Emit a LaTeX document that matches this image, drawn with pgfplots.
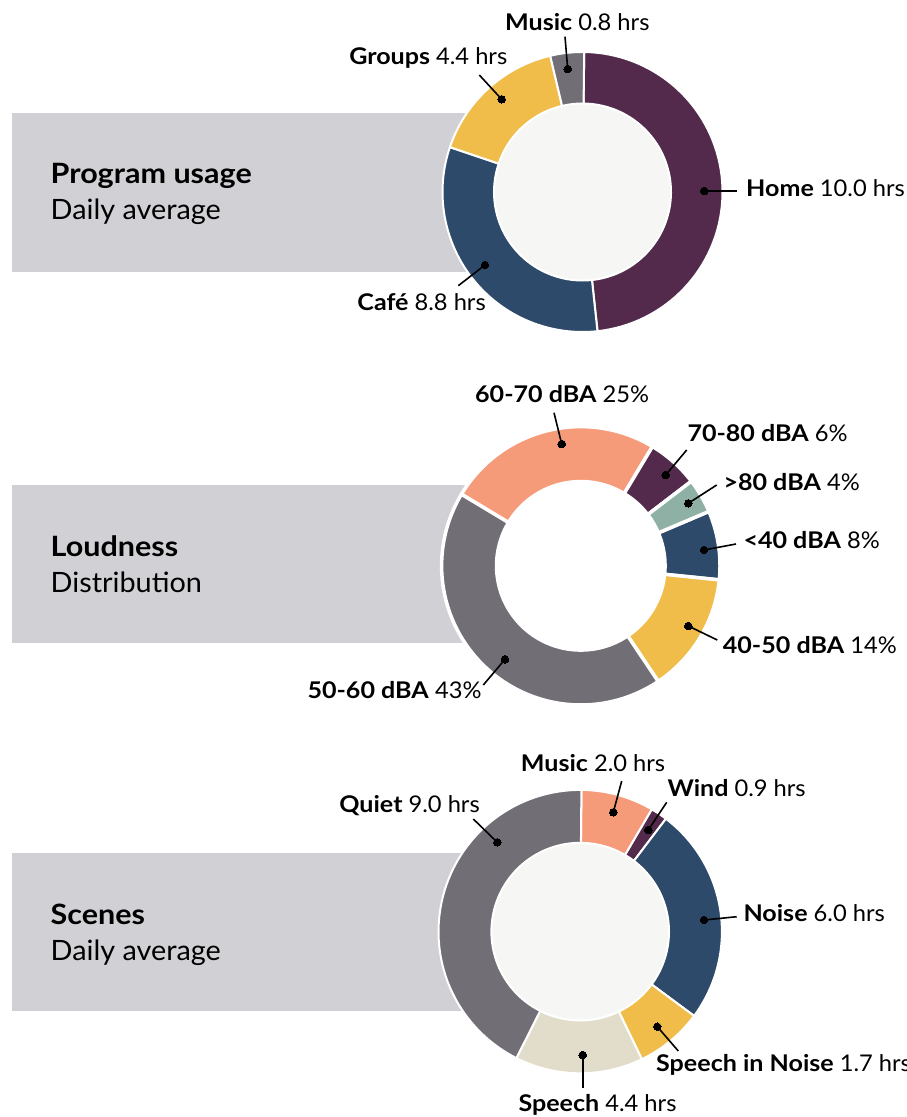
\documentclass[border=0pt]{standalone}
\usepackage{pgfplots}
\pgfplotsset{compat=1.18}
\usepackage{fontspec}
\setmainfont{Lato}[UprightFeatures={FakeStretch=1.03}, BoldFeatures={FakeStretch=1.09}]

\definecolor{panel}{HTML}{D1D0D5}
\definecolor{hole}{HTML}{F6F6F4}
\definecolor{cpurple}{HTML}{532A4B}
\definecolor{cnavy}{HTML}{2E4A6A}
\definecolor{cyellow}{HTML}{F0BD4B}
\definecolor{cgray}{HTML}{716E75}
\definecolor{csalmon}{HTML}{F69B79}
\definecolor{csage}{HTML}{8FB0A5}
\definecolor{cbeige}{HTML}{E2DDCB}

\def\sepw{2pt}
\def\curang{90}
% #1 cx, #2 cy, #3 outer radius, #4 share (percent), #5 colour
\newcommand\slice[5]{%
  \pgfmathsetmacro\endang{\curang-3.6*#4}%
  \edef\tmp{\noexpand\addplot[fill=#5, draw=white, line width=\sepw, line join=round,
     domain=0:1, samples=70, variable=\noexpand\t]
    ({#1+#3*cos(\curang+(\endang-\curang)*\noexpand\t)},
     {#2-#3*sin(\curang+(\endang-\curang)*\noexpand\t)}) -- (axis cs:#1,#2) -- cycle;}%
  \tmp
  \global\let\curang\endang
}
% #1 cx, #2 cy, #3 inner radius, #4 colour
\newcommand\hole[4]{%
  \addplot[fill=#4, draw=white, line width=\sepw, domain=0:360, samples=145]
    ({#1+#3*cos(x)}, {#2-#3*sin(x)}) -- cycle;
}
% leader: dot (#1,#2) to end (#3,#4)
\newcommand\leader[4]{%
  \addplot[black, line width=1.6pt, mark=*, mark size=3.8pt, mark indices={1},
    mark options={fill=black, line width=0pt}] coordinates {(#1,#2) (#3,#4)};
}
\newcommand\lab{\fontsize{23}{27}\selectfont}
\newcommand\ttl{\fontsize{28}{32}\selectfont}

\begin{document}
\begin{tikzpicture}
\begin{axis}[x=1pt, y=1pt, xmin=0, xmax=906, ymin=0, ymax=1117, y dir=reverse,
  hide axis, scale only axis, clip=false]

% ---------- panels ----------
\addplot[fill=panel, draw=none] coordinates {(12,113) (470,113) (470,272) (12,272)} -- cycle;
\addplot[fill=panel, draw=none] coordinates {(12,485) (470,485) (470,643) (12,643)} -- cycle;
\addplot[fill=panel, draw=none] coordinates {(12,853) (470,853) (470,1011) (12,1011)} -- cycle;

% ---------- Program usage ----------
\def\sepw{2pt}
\gdef\curang{89.3}
\slice{582.5}{192}{140}{48.1}{cpurple}  % Home 10.0 hrs
\slice{582.5}{192}{140}{31.9}{cnavy}    % Cafe 8.8 hrs
\slice{582.5}{192}{140}{16.1}{cyellow}  % Groups 4.4 hrs
\slice{582.5}{192}{140}{3.9}{cgray}     % Music 0.8 hrs
\hole{582.5}{192}{88.5}{hole}

% ---------- Loudness ----------
\def\sepw{3.5pt}
\gdef\curang{23}
\slice{580.8}{565.8}{139.2}{8}{cnavy}     % <40 dBA
\slice{580.8}{565.8}{139.2}{14}{cyellow}  % 40-50 dBA
\slice{580.8}{565.8}{139.2}{43}{cgray}    % 50-60 dBA
\slice{580.8}{565.8}{139.2}{25}{csalmon}  % 60-70 dBA
\slice{580.8}{565.8}{139.2}{6}{cpurple}   % 70-80 dBA
\slice{580.8}{565.8}{139.2}{4}{csage}     % >80 dBA
\hole{580.8}{565.8}{85}{white}

% ---------- Scenes ----------
\def\sepw{2pt}
\gdef\curang{89.5}
\slice{580.2}{931.6}{141.7}{8.3}{csalmon}  % Music 2.0 hrs
\slice{580.2}{931.6}{141.7}{1.9}{cpurple}  % Wind 0.9 hrs
\slice{580.2}{931.6}{141.7}{24.8}{cnavy}   % Noise 6.0 hrs
\slice{580.2}{931.6}{141.7}{7.7}{cyellow}  % Speech in Noise 1.7 hrs
\slice{580.2}{931.6}{141.7}{14.6}{cbeige}  % Speech 4.4 hrs
\slice{580.2}{931.6}{141.7}{42.7}{cgray}   % Quiet 9.0 hrs
\hole{580.2}{931.6}{88.8}{hole}

% ---------- leaders ----------
\leader{567.7}{69}{565}{36.7}
\leader{501.7}{99.3}{479.3}{75}
\leader{704.3}{191}{736.7}{191}
\leader{485}{265}{458.3}{285.7}

\leader{561.7}{444}{554}{412.7}
\leader{665.7}{475}{686.7}{450}
\leader{688.3}{503.3}{716.7}{485}
\leader{704}{550}{736}{544}
\leader{688.3}{626}{717.3}{640}
\leader{505}{659.3}{483.3}{685}

\leader{613.3}{812.3}{621.7}{781}
\leader{648.3}{830}{666.7}{802.3}
\leader{497.3}{842.3}{473.3}{819}
\leader{704}{920}{736.7}{916.7}
\leader{657.3}{1026.7}{678.3}{1051}
\leader{582.7}{1055}{582.7}{1087.7}

% ---------- labels ----------
\node[anchor=base west, inner sep=0pt] at (axis cs:505,30) {\lab\textbf{Music} 0.8 hrs};
\node[anchor=base east, inner sep=0pt] at (axis cs:507.5,64) {\lab\textbf{Groups} 4.4 hrs};
\node[anchor=base west, inner sep=0pt] at (axis cs:746,196.7) {\lab\textbf{Home} 10.0 hrs};
\node[anchor=base east, inner sep=0pt] at (axis cs:486,310) {\lab\textbf{Café} 8.8 hrs};

\node[anchor=base west, inner sep=0pt] at (axis cs:475,402.3) {\lab\textbf{60-70 dBA} 25\%};
\node[anchor=base west, inner sep=0pt] at (axis cs:687.3,441.7) {\lab\textbf{70-80 dBA} 6\%};
\node[anchor=base west, inner sep=0pt] at (axis cs:723.3,490) {\lab\textbf{>80 dBA} 4\%};
\node[anchor=base west, inner sep=0pt] at (axis cs:743.3,548.3) {\lab\textbf{<40 dBA} 8\%};
\node[anchor=base west, inner sep=0pt] at (axis cs:722.7,653.3) {\lab\textbf{40-50 dBA} 14\%};
\node[anchor=base east, inner sep=0pt] at (axis cs:481.7,698.3) {\lab\textbf{50-60 dBA} 43\%};

\node[anchor=base west, inner sep=0pt] at (axis cs:520.7,771.7) {\lab\textbf{Music} 2.0 hrs};
\node[anchor=base west, inner sep=0pt] at (axis cs:667.3,796) {\lab\textbf{Wind} 0.9 hrs};
\node[anchor=base east, inner sep=0pt] at (axis cs:480,812) {\lab\textbf{Quiet} 9.0 hrs};
\node[anchor=base west, inner sep=0pt] at (axis cs:743.3,921.7) {\lab\textbf{Noise} 6.0 hrs};
\node[anchor=base west, inner sep=0pt] at (axis cs:656,1071.7) {\lab\textbf{Speech in Noise} 1.7 hrs};
\node[anchor=base west, inner sep=0pt] at (axis cs:518.3,1111.7) {\lab\textbf{Speech} 4.4 hrs};

% ---------- panel titles ----------
\node[anchor=base west, inner sep=0pt] at (axis cs:50.5,183.3) {\ttl\textbf{Program usage}};
\node[anchor=base west, inner sep=0pt] at (axis cs:50.5,219) {\ttl Daily average};
\node[anchor=base west, inner sep=0pt] at (axis cs:50.5,556) {\ttl\textbf{Loudness}};
\node[anchor=base west, inner sep=0pt] at (axis cs:50.5,592) {\ttl Distribution};
\node[anchor=base west, inner sep=0pt] at (axis cs:50.5,924) {\ttl\textbf{Scenes}};
\node[anchor=base west, inner sep=0pt] at (axis cs:50.5,960) {\ttl Daily average};
\end{axis}
\pgfresetboundingbox
\useasboundingbox (current axis.south west) rectangle (current axis.north east);
\end{tikzpicture}
\end{document}
